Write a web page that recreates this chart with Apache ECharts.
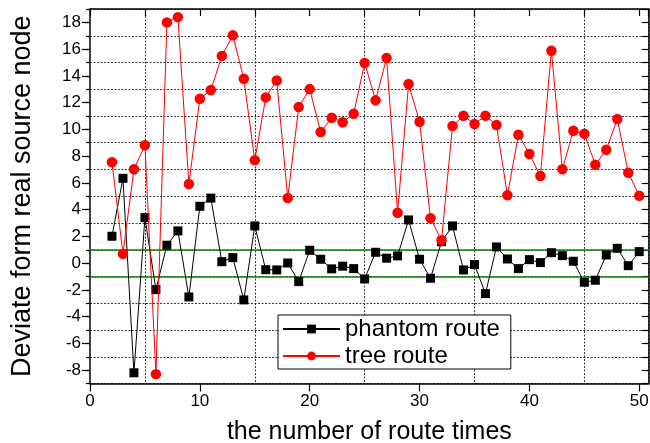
<!DOCTYPE html>
<html>
<head>
<meta charset="utf-8">
<script src="https://cdn.jsdelivr.net/npm/echarts@6/dist/echarts.min.js"></script>
<style>
  html, body { margin: 0; padding: 0; background: #fff; }
  #chart { width: 650px; height: 443px; }
</style>
</head>
<body>
<div id="chart"></div>
<script>
// Route index (x) for every recorded run
const routeTimes = [2, 3, 4, 5, 6, 7, 8, 9, 10, 11, 12, 13, 14, 15, 16, 17, 18, 19, 20, 21, 22, 23, 24, 25,
  26, 27, 28, 29, 30, 31, 32, 33, 34, 35, 36, 37, 38, 39, 40, 41, 42, 43, 44, 45, 46, 47, 48, 49, 50];

// Deviation from the real source node, phantom routing
const phantomRoute = [2.01, 6.34, -8.2, 3.4, -1.98, 1.34, 2.41, -2.53, 4.25, 4.86, 0.11, 0.41, -2.75, 2.78,
  -0.49, -0.51, 0.01, -1.38, 0.96, 0.29, -0.43, -0.23, -0.41, -1.18, 0.81, 0.37, 0.54, 3.23, 0.29, -1.13,
  1.6, 2.78, -0.51, -0.11, -2.28, 1.21, 0.31, -0.41, 0.26, 0.04, 0.78, 0.56, 0.14, -1.43, -1.28, 0.61,
  1.11, -0.19, 0.86];

// Deviation from the real source node, tree routing
const treeRoute = [7.54, 0.69, 7.02, 8.81, -8.3, 18.0, 18.39, 5.92, 12.29, 12.94, 15.48, 17.03, 13.78, 7.69,
  12.39, 13.66, 4.87, 11.67, 13.01, 9.8, 10.87, 10.53, 11.17, 14.96, 12.17, 15.33, 3.77, 13.39, 10.57,
  3.35, 1.71, 10.25, 11.02, 10.4, 11.02, 10.33, 5.07, 9.6, 8.16, 6.51, 15.88, 7.02, 9.9, 9.67, 7.36,
  8.48, 10.77, 6.76, 5.04];

// Tick labels
const xTickLabels = [0, 10, 20, 30, 40, 50];
const yTickLabels = [-8, -6, -4, -2, 0, 2, 4, 6, 8, 10, 12, 14, 16, 18];

// Acceptance band drawn as two green reference lines
const bandLimits = [1, -1];

// Axis extents
const X_MIN = 0, X_MAX = 50.86;
const Y_MIN = -9, Y_MAX = 19;

const FONT = '"Liberation Sans", Arial, sans-serif';
const DOT = '#3a3a3a';
const CLEAR = 'rgba(0,0,0,0)';
const DOT_STYLE = { type: [2, 1.5], width: 1 };

const phantomData = routeTimes.map((x, i) => [x, phantomRoute[i]]);
const treeData = routeTimes.map((x, i) => [x, treeRoute[i]]);

const frameLine = { show: true, onZero: false, lineStyle: { color: '#000', width: 1.5 } };

const chart = echarts.init(document.getElementById('chart'), null, { renderer: 'canvas' });

chart.setOption({
  animation: false,
  backgroundColor: '#fff',
  textStyle: { fontFamily: FONT },
  grid: { left: 90, right: 1.3, top: 9, bottom: 59.5, containLabel: false, outerBoundsMode: 'none' },
  legend: {
    left: 278,
    top: 315,
    orient: 'vertical',
    data: ['phantom route', 'tree route'],
    itemWidth: 57,
    itemHeight: 11,
    itemGap: 3,
    padding: [2, 11, 1, 4],
    borderColor: '#000',
    borderWidth: 1,
    backgroundColor: '#fff',
    textStyle: { fontFamily: FONT, fontSize: 24, color: '#000' }
  },
  xAxis: [
    {
      // bottom frame: labels and long ticks at every ten routes
      type: 'value',
      position: 'bottom',
      min: X_MIN, max: X_MAX, interval: 5,
      name: 'the number of route times',
      nameLocation: 'middle',
      nameGap: 36,
      nameTextStyle: { fontFamily: FONT, fontSize: 25, color: '#000' },
      axisLine: frameLine,
      axisTick: { show: true, inside: false, length: 8, customValues: xTickLabels, lineStyle: { color: '#000', width: 1.2 } },
      axisLabel: { customValues: xTickLabels, margin: 9, fontFamily: FONT, fontSize: 17, color: '#000' },
      splitLine: { show: false }
    },
    {
      // top frame: inward ticks every five, dotted grid at odd multiples of five
      type: 'value',
      position: 'top',
      min: X_MIN, max: X_MAX, interval: 5,
      axisLine: frameLine,
      axisTick: { show: true, inside: true, length: 7, lineStyle: { color: '#000', width: 1.2 } },
      axisLabel: { show: false },
      splitLine: { show: true, lineStyle: Object.assign({ color: [CLEAR, DOT] }, DOT_STYLE) }
    }
  ],
  yAxis: [
    {
      // left frame: even labels with long ticks
      type: 'value',
      position: 'left',
      min: Y_MIN, max: Y_MAX, interval: 1,
      name: 'Deviate form real source node',
      nameLocation: 'middle',
      nameGap: 54,
      nameRotate: 90,
      nameTextStyle: { fontFamily: FONT, fontSize: 27, color: '#000' },
      axisLine: frameLine,
      axisTick: { show: true, inside: false, length: 8, customValues: yTickLabels, lineStyle: { color: '#000', width: 1.2 } },
      axisLabel: { customValues: yTickLabels, margin: 9, fontFamily: FONT, fontSize: 17, color: '#000' },
      splitLine: { show: false }
    },
    {
      // short outward ticks at every unit, dotted grid at odd values
      type: 'value',
      position: 'left',
      min: Y_MIN, max: Y_MAX, interval: 1,
      axisLine: { show: false },
      axisTick: { show: true, inside: false, length: 4, lineStyle: { color: '#000', width: 1.2 } },
      axisLabel: { show: false },
      splitLine: { show: true, lineStyle: Object.assign({ color: [DOT, CLEAR] }, DOT_STYLE) }
    },
    {
      // right frame with inward ticks
      type: 'value',
      position: 'right',
      min: Y_MIN, max: Y_MAX, interval: 1,
      axisLine: frameLine,
      axisTick: { show: true, inside: true, length: 7, lineStyle: { color: '#000', width: 1.2 } },
      axisLabel: { show: false },
      splitLine: { show: false }
    }
  ],
  series: [
    {
      name: 'phantom route',
      type: 'line',
      xAxisIndex: 0, yAxisIndex: 0,
      data: phantomData,
      symbol: 'rect',
      symbolSize: 9,
      showAllSymbol: true,
      lineStyle: { color: '#000', width: 1 },
      itemStyle: { color: '#000' },
      z: 3
    },
    {
      name: 'tree route',
      type: 'line',
      xAxisIndex: 0, yAxisIndex: 0,
      data: treeData,
      symbol: 'circle',
      symbolSize: 10.5,
      showAllSymbol: true,
      lineStyle: { color: '#ff0000', width: 1 },
      itemStyle: { color: '#ff0000' },
      z: 4,
      markLine: {
        silent: true,
        z: 1,
        symbol: 'none',
        label: { show: false },
        lineStyle: { color: '#0a880a', type: 'solid', width: 1.5 },
        data: bandLimits.map(v => ({ yAxis: v }))
      }
    }
  ]
});
</script>
</body>
</html>
